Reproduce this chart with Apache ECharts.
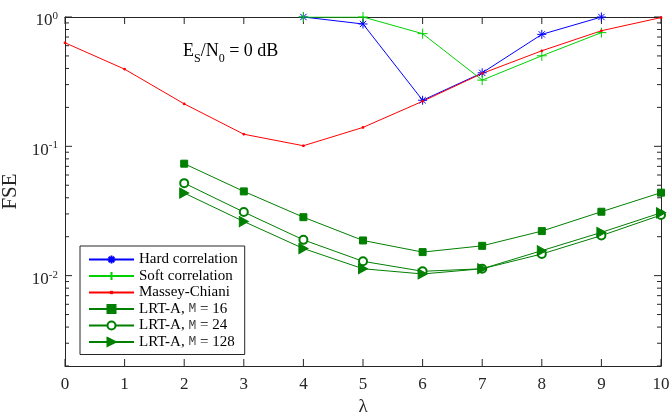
<!DOCTYPE html>
<html><head><meta charset="utf-8">
<script src="https://cdn.jsdelivr.net/npm/echarts@6/dist/echarts.min.js"></script>
<style>html,body{margin:0;padding:0;background:#fff}#c{width:671px;height:412px}</style>
</head><body><div id="c"></div>
<script>
// ---- data ----
const lambda = [0, 1, 2, 3, 4, 5, 6, 7, 8, 9, 10];
const corrLambda = [4, 5, 6, 7, 8, 9];
const hardCorr = [1.0, 0.883, 0.227, 0.370, 0.734, 1.0];
const softCorr = [1.0, 1.0, 0.743, 0.325, 0.501, 0.757];
const masseyChiani = [0.632, 0.395, 0.213, 0.124, 0.101, 0.140, 0.223, 0.366, 0.548, 0.783, 0.99];
const lrtLambda = [2, 3, 4, 5, 6, 7, 8, 9, 10];
const lrtM16 = [0.0734, 0.0448, 0.0283, 0.0187, 0.0152, 0.0170, 0.0221, 0.0312, 0.0438];
const lrtM24 = [0.0519, 0.0310, 0.0189, 0.0129, 0.0108, 0.0113, 0.0147, 0.0204, 0.0294];
const lrtM128 = [0.0435, 0.0262, 0.0162, 0.0113, 0.0103, 0.0113, 0.0156, 0.0216, 0.0306];
const seriesNames = ['Hard correlation', 'Soft correlation', 'Massey-Chiani', 'LRT-A, M = 16', 'LRT-A, M = 24', 'LRT-A, M = 128'];
const seriesColors = ['#0000FF', '#00D000', '#FF0000', '#007F00', '#007F00', '#007F00'];
const xRange = [0, 10];
const xTicks = [0, 1, 2, 3, 4, 5, 6, 7, 8, 9, 10];
const yRange = [0.002, 1];
const yMajorTicks = [0.01, 0.1, 1];
const yMajorExp = ['-2', '-1', '0'];
const yMinorTicks = [0.002,0.003,0.004,0.005,0.006,0.007,0.008,0.009,
                     0.02,0.03,0.04,0.05,0.06,0.07,0.08,0.09,
                     0.2,0.3,0.4,0.5,0.6,0.7,0.8,0.9];

// ---- build ----
const zip = (xs, ys) => xs.map((x, i) => [x, ys[i]]);
const AX = '#262626';
const SERIF = 'Liberation Serif';
const MAJOR_LEN = 7, MINOR_LEN = 4;

const asterisk = 'path://M0,-1L0,1M-1,0L1,0M-0.7,-0.7L0.7,0.7M-0.7,0.7L0.7,-0.7';
const plus = 'path://M0,-1L0,1M-1,0L1,0';
const dot = 'path://M-1,-1M1,1M-0.16,-0.16L0.16,-0.16L0.16,0.16L-0.16,0.16Z';
const triRight = 'path://M0,0L1,0.5L0,1Z';
const hDash = 'path://M0,-1M0,1M0,0L1,0';
const vDash = 'path://M-1,0M1,0M0,0L0,1';

function line(i, xs, ys, symbol, size) {
  const color = seriesColors[i];
  return {
    type: 'line', name: seriesNames[i], data: zip(xs, ys), xAxisIndex: 0, yAxisIndex: 0,
    symbol, symbolSize: size, showAllSymbol: true,
    lineStyle: {color, width: 1},
    itemStyle: {color, borderColor: color, borderWidth: 1},
    emphasis: {disabled: true}, z: 3
  };
}

// tick marks drawn as dash symbols placed through the axes' scales
function tickSeries(data, symbol, size, offset) {
  return {
    type: 'scatter', silent: true, clip: false, z: 1,
    xAxisIndex: 0, yAxisIndex: 0,
    data, symbol, symbolSize: size, symbolOffset: offset,
    itemStyle: {color: AX, borderColor: AX, borderWidth: 1, opacity: 1},
    emphasis: {disabled: true}
  };
}
const tickMarks = [
  tickSeries(yMajorTicks.map(v => [xRange[0], v]), hDash, [MAJOR_LEN, 2], [MAJOR_LEN / 2, 0]),
  tickSeries(yMinorTicks.map(v => [xRange[0], v]), hDash, [MINOR_LEN, 2], [MINOR_LEN / 2, 0]),
  tickSeries(yMajorTicks.map(v => [xRange[1], v]), hDash, [MAJOR_LEN, 2], [-MAJOR_LEN / 2, 0]),
  tickSeries(yMinorTicks.map(v => [xRange[1], v]), hDash, [MINOR_LEN, 2], [-MINOR_LEN / 2, 0]),
  tickSeries(xTicks.map(v => [v, yRange[0]]), vDash, [2, MAJOR_LEN], [0, -MAJOR_LEN / 2]),
  tickSeries(xTicks.map(v => [v, yRange[1]]), vDash, [2, MAJOR_LEN], [0, MAJOR_LEN / 2])
];

const option = {
  animation: false,
  grid: {left: 65, right: 10, top: 17, bottom: 46, containLabel: false, outerBoundsMode: 'none'},
  xAxis: [
    {type: 'value', min: xRange[0], max: xRange[1], interval: 1, position: 'bottom',
     axisLine: {show: true, onZero: false, lineStyle: {color: AX, width: 1}},
     axisTick: {show: false},
     axisLabel: {fontFamily: SERIF, fontSize: 17, color: AX, margin: 10},
     splitLine: {show: false},
     name: 'λ', nameLocation: 'middle', nameGap: 29,
     nameTextStyle: {fontFamily: SERIF, fontSize: 19, color: AX}},
    {type: 'value', min: xRange[0], max: xRange[1], interval: 1, position: 'top',
     axisLine: {show: true, onZero: false, lineStyle: {color: AX, width: 1}},
     axisTick: {show: false}, axisLabel: {show: false}, splitLine: {show: false}}
  ],
  yAxis: [
    {type: 'log', logBase: 10, min: yRange[0], max: yRange[1], position: 'left',
     axisLine: {show: true, onZero: false, lineStyle: {color: AX, width: 1}},
     axisTick: {show: false},
     axisLabel: {
       show: true, customValues: yMajorTicks, margin: 7,
       formatter: (v) => {
         const i = yMajorTicks.findIndex(p => Math.abs(p - v) / p < 1e-6);
         return '{b|10}{s|' + yMajorExp[i] + '}';
       },
       rich: {
         b: {fontFamily: SERIF, fontSize: 17, lineHeight: 17, padding: [4, 0, 0, 0], verticalAlign: 'top', color: AX},
         s: {fontFamily: SERIF, fontSize: 11, lineHeight: 11, padding: [2, 0, 0, 0], verticalAlign: 'top', color: AX}
       }
     },
     splitLine: {show: false}, minorSplitLine: {show: false},
     name: 'FSE', nameLocation: 'middle', nameGap: 36,
     nameTextStyle: {fontFamily: SERIF, fontSize: 21, color: AX}},
    {type: 'log', logBase: 10, min: yRange[0], max: yRange[1], position: 'right',
     axisLine: {show: true, onZero: false, lineStyle: {color: AX, width: 1}},
     axisTick: {show: false}, axisLabel: {show: false}, splitLine: {show: false}}
  ],
  legend: {
    orient: 'vertical', left: 80, top: 246,
    padding: [6, 7, 5, 8],
    itemWidth: 45, itemHeight: 10, itemGap: 1.5,
    backgroundColor: '#fff', borderColor: AX, borderWidth: 1, borderRadius: 0,
    selectedMode: false,
    data: seriesNames,
    textStyle: {fontFamily: SERIF, fontSize: 15, color: '#000',
      rich: {
        a: {fontFamily: SERIF, fontSize: 15, color: '#000'},
        m: {fontFamily: 'Liberation Mono', fontSize: 13, color: '#444'}
      }},
    formatter: (name) => {
      if (name.indexOf('LRT-A') === 0) {
        const rest = name.slice('LRT-A, M'.length);
        return '{a|LRT-A, }{m|M}{a|' + rest + '}';
      }
      return name;
    }
  },
  graphic: [{
    type: 'text', left: 183, top: 42, z: 10,
    style: {
      text: '{n|E}{s|S}{n|/N}{s|0}{n| = 0 dB}',
      fill: '#000',
      rich: {
        n: {fontFamily: SERIF, fontSize: 18, lineHeight: 20, verticalAlign: 'top', fill: '#000'},
        s: {fontFamily: SERIF, fontSize: 12, lineHeight: 12, padding: [11, 0, 0, 0], verticalAlign: 'top', fill: '#000'}
      }
    }
  }],
  series: tickMarks.concat([
    line(0, corrLambda, hardCorr, asterisk, 9),
    line(1, corrLambda, softCorr, plus, 10),
    line(2, lambda, masseyChiani, dot, 10),
    line(3, lrtLambda, lrtM16, 'rect', 7),
    line(4, lrtLambda, lrtM24, 'emptyCircle', 8),
    line(5, lrtLambda, lrtM128, triRight, [9, 10])
  ])
};

const chart = echarts.init(document.getElementById('c'), null, {renderer: 'canvas'});
chart.setOption(option);
</script>
</body></html>
